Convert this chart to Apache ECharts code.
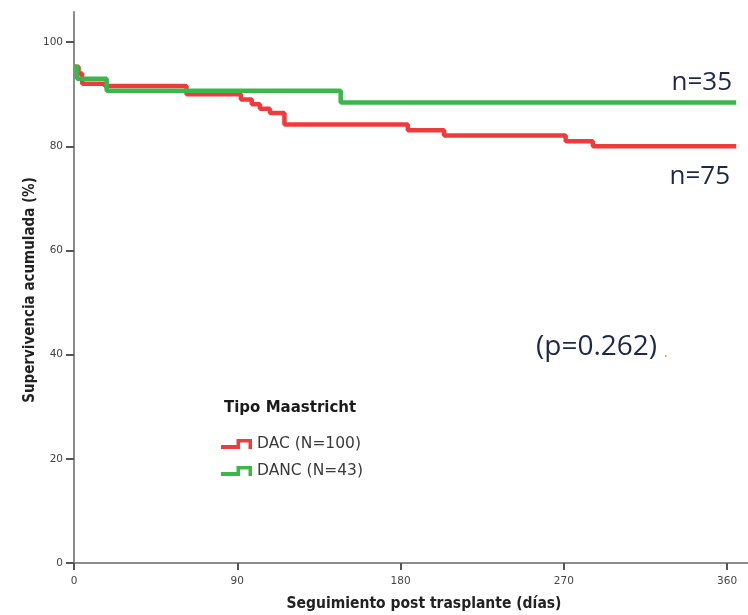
<!DOCTYPE html>
<html>
<head>
<meta charset="utf-8">
<script src="https://cdn.jsdelivr.net/npm/echarts@6/dist/echarts.min.js"></script>
<style>
  html, body { margin: 0; padding: 0; background: #ffffff; }
  #chart { width: 748px; height: 615px; }
</style>
</head>
<body>
<div id="chart"></div>
<script>
// Kaplan–Meier survival after transplant, by Maastricht donor type
const seriesNames = ['DAC (N=100)', 'DANC (N=43)'];

// DAC: event times (days) and cumulative survival (%) after each step
const daysDAC = [0, 2.5, 4.5, 17, 62, 92, 98, 102.5, 108, 116, 184, 204, 271, 286, 365];
const survDAC = [95.3, 94.0, 92.0, 91.6, 90.0, 89.0, 88.1, 87.2, 86.4, 84.2, 83.1, 82.1, 81.0, 80.0, 80.0];

// DANC: event times (days) and cumulative survival (%)
const daysDANC = [0, 1.7, 18, 147, 365];
const survDANC = [95.3, 93.0, 90.7, 88.4, 88.4];

const xTicks = [0, 90, 180, 270, 360];
const yTicks = [0, 20, 40, 60, 80, 100];

const atRiskLabels = ['n=35', 'n=75'];
const pValueText = '(p=0.262)';

const colorDAC = '#ef3b3b';
const colorDANC = '#3cb54a';

const zip = (xs, ys) => xs.map((x, i) => [x, ys[i]]);

// step-shaped legend glyph
const stepIcon = 'path://M0,6 L15.5,6 L15.5,0 L31,0 L31,10 L27.5,10 L27.5,3.5 L19,3.5 L19,10 L0,10 Z';

const tickFont = { fontFamily: 'DejaVu Sans', fontSize: 10.5, color: '#444' };

const chart = echarts.init(document.getElementById('chart'), null, { renderer: 'canvas' });

chart.setOption({
  animation: false,
  backgroundColor: '#ffffff',
  grid: { left: 74, right: 0, top: 12, bottom: 52, containLabel: false },
  xAxis: {
    type: 'value',
    min: 0,
    max: 371.5,
    axisLine: { show: true, lineStyle: { color: '#8c8c8c', width: 2 } },
    axisTick: { show: true, customValues: xTicks, length: 7, lineStyle: { color: '#555', width: 2 } },
    axisLabel: { show: true, customValues: xTicks, margin: 13, ...tickFont },
    splitLine: { show: false }
  },
  yAxis: {
    type: 'value',
    min: 0,
    max: 105.8,
    axisLine: { show: true, lineStyle: { color: '#8c8c8c', width: 2 } },
    axisTick: { show: true, customValues: yTicks, length: 8, lineStyle: { color: '#555', width: 2 } },
    axisLabel: { show: true, customValues: yTicks, margin: 11, ...tickFont },
    splitLine: { show: false }
  },
  legend: {
    orient: 'vertical',
    left: 221,
    top: 436,
    padding: 0,
    itemWidth: 31,
    itemHeight: 10,
    itemGap: 11,
    icon: stepIcon,
    itemStyle: { borderWidth: 0 },
    textStyle: { fontFamily: 'DejaVu Sans', fontSize: 15.5, color: '#3a3a3a', padding: [0, 0, 0, 0] },
    data: seriesNames
  },
  series: [
    {
      name: seriesNames[0],
      type: 'line',
      step: 'end',
      symbol: 'none',
      color: colorDAC,
      itemStyle: { color: colorDAC },
      lineStyle: { color: colorDAC, width: 4.5 },
      data: zip(daysDAC, survDAC),
      z: 2
    },
    {
      name: seriesNames[1],
      type: 'line',
      step: 'end',
      symbol: 'none',
      color: colorDANC,
      itemStyle: { color: colorDANC },
      lineStyle: { color: colorDANC, width: 4.5 },
      data: zip(daysDANC, survDANC),
      z: 3
    }
  ],
  graphic: [
    {
      type: 'text',
      left: 224, top: 401,
      style: { text: 'Tipo Maastricht', font: 'bold 15px "DejaVu Sans"', fill: '#1a1a1a' }
    },
    {
      type: 'text',
      x: 30, y: 290,
      rotation: Math.PI / 2,
      style: {
        text: 'Supervivencia acumulada (%)',
        font: 'bold 15px "DejaVu Sans Condensed"',
        fill: '#222',
        align: 'center',
        verticalAlign: 'middle'
      }
    },
    {
      type: 'text',
      x: 424, y: 604,
      style: {
        text: 'Seguimiento post trasplante (días)',
        font: 'bold 15.5px "DejaVu Sans Condensed"',
        fill: '#222',
        align: 'center',
        verticalAlign: 'middle'
      }
    },
    {
      type: 'text',
      x: 732, y: 83,
      style: { text: atRiskLabels[0], font: '26px "Open Sans"', fill: '#1e2746', align: 'right', verticalAlign: 'middle' }
    },
    {
      type: 'text',
      x: 730, y: 177,
      style: { text: atRiskLabels[1], font: '26px "Open Sans"', fill: '#1e2746', align: 'right', verticalAlign: 'middle' }
    },
    {
      type: 'text',
      x: 536, y: 347,
      style: { text: pValueText, font: '28px "Open Sans"', fill: '#1e2746', align: 'left', verticalAlign: 'middle' }
    },
    {
      type: 'text',
      x: 664, y: 353,
      style: { text: '.', font: '14px "Open Sans"', fill: '#e08a2a', align: 'left', verticalAlign: 'middle' }
    }
  ]
});
</script>
</body>
</html>
